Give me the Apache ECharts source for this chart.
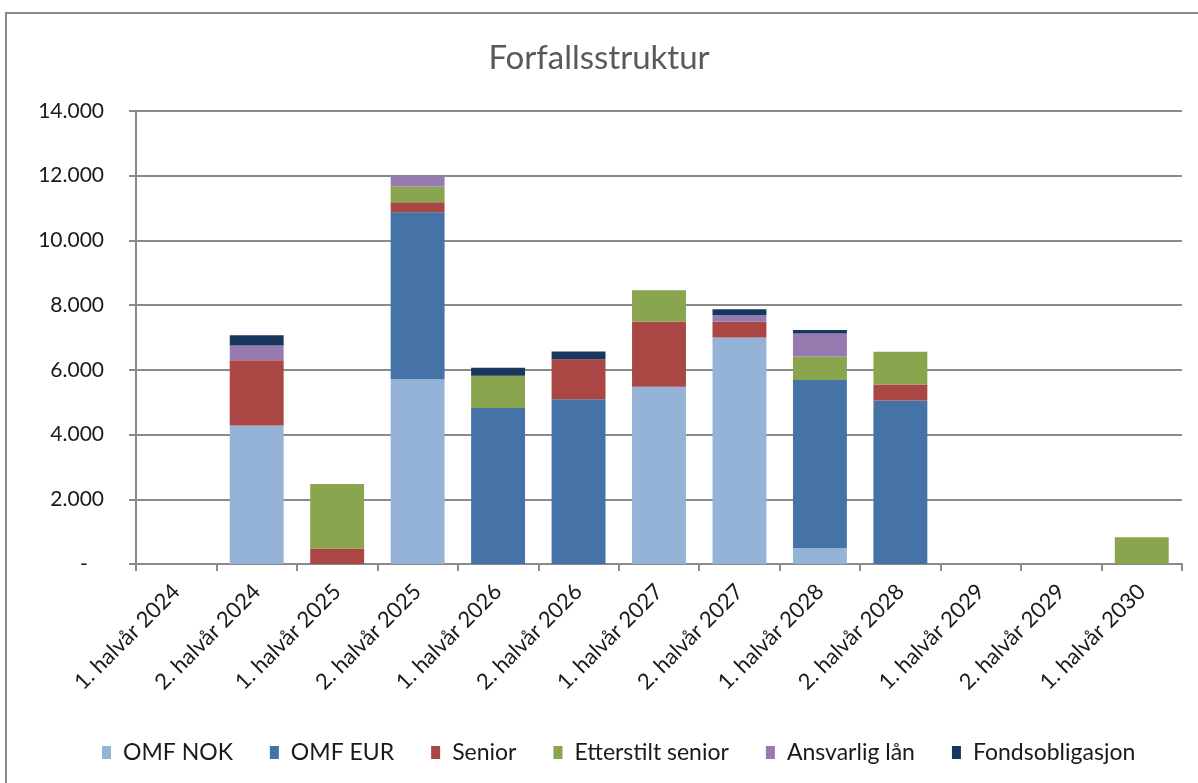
<!DOCTYPE html>
<html>
<head>
<meta charset="utf-8">
<script src="https://cdn.jsdelivr.net/npm/echarts@6/dist/echarts.min.js"></script>
<style>
  body { margin: 0; background: #fff; }
  #frame {
    position: absolute; left: 5px; top: 12px; width: 1300px; height: 900px;
    border: 2px solid #8a8a8a; box-sizing: border-box;
  }
  #chart { position: absolute; left: 0; top: 0; width: 1198px; height: 783px; }
</style>
</head>
<body>
<div id="frame"></div>
<div id="chart"></div>
<script>
const categories = [
  "1. halvår 2024", "2. halvår 2024", "1. halvår 2025", "2. halvår 2025",
  "1. halvår 2026", "2. halvår 2026", "1. halvår 2027", "2. halvår 2027",
  "1. halvår 2028", "2. halvår 2028", "1. halvår 2029", "2. halvår 2029",
  "1. halvår 2030",
];
const omfNok     = [0, 4280, 0, 5710, 0, 0, 5480, 7000, 490, 0, 0, 0, 0];
const omfEur     = [0, 0, 0, 5160, 4820, 5090, 0, 0, 5200, 5050, 0, 0, 0];
const senior     = [0, 2020, 480, 310, 0, 1240, 2010, 490, 0, 500, 0, 0, 0];
const etterstilt = [0, 0, 1990, 490, 1000, 0, 970, 0, 720, 1010, 0, 0, 830];
const ansvarlig  = [0, 450, 0, 330, 0, 0, 0, 200, 710, 0, 0, 0, 0];
const fond       = [0, 320, 0, 0, 245, 240, 0, 180, 110, 0, 0, 0, 0];

const names = ["OMF NOK", "OMF EUR", "Senior", "Etterstilt senior", "Ansvarlig lån", "Fondsobligasjon"];
const colors = ["#95b3d7", "#4572a7", "#aa4643", "#89a54e", "#957bb0", "#17375e"];
const values = [omfNok, omfEur, senior, etterstilt, ansvarlig, fond];

const font = "Lato, 'Open Sans', sans-serif";
const gridGray = "#8a8a8a";

const chart = echarts.init(document.getElementById("chart"));
const series = names.map((name, i) => ({
  name: name,
  type: "bar",
  stack: "total",
  barCategoryGap: "33%",
  itemStyle: { color: colors[i] },
  data: values[i],
}));

chart.setOption({
  animation: false,
  textStyle: { fontFamily: font },
  title: {
    text: "Forfallsstruktur",
    left: "center",
    top: 37,
    textStyle: { fontFamily: font, fontSize: 33, fontWeight: "normal", color: "#595959" },
  },
  legend: {
    data: names,
    bottom: 14,
    left: 97,
    itemWidth: 9,
    itemHeight: 13,
    itemGap: 37,
    icon: "rect",
    textStyle: { fontFamily: font, fontSize: 23, color: "#1a1a1a", padding: [0, 0, 0, 7] },
  },
  grid: { left: 136, right: 16, top: 111, bottom: 219 },
  xAxis: {
    type: "category",
    data: categories,
    boundaryGap: true,
    axisLine: { lineStyle: { color: gridGray, width: 2 } },
    axisTick: { show: true, length: 7, interval: 0, lineStyle: { color: gridGray, width: 2 } },
    axisLabel: {
      interval: 0,
      rotate: 45,
      margin: 24,
      fontSize: 22,
      fontFamily: font,
      color: "#1a1a1a",
    },
  },
  yAxis: {
    type: "value",
    min: 0,
    max: 14000,
    interval: 2000,
    axisLine: { show: true, lineStyle: { color: gridGray, width: 2 } },
    axisTick: { show: true, length: 7, lineStyle: { color: gridGray, width: 2 } },
    splitLine: { lineStyle: { color: gridGray, width: 2 } },
    axisLabel: {
      margin: 32,
      fontSize: 21,
      fontFamily: font,
      color: "#1a1a1a",
      formatter: (v) => v === 0 ? "-   " : String(v).replace(/\B(?=(\d{3})+(?!\d))/g, "."),
    },
  },
  series: series,
});
</script>
</body>
</html>
